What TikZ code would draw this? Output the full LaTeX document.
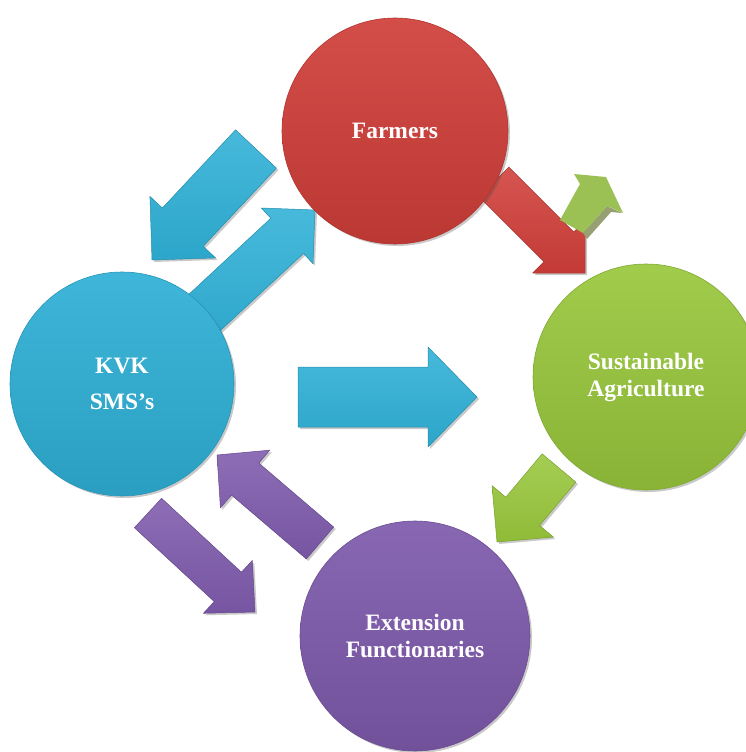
\documentclass[tikz,border=0pt]{standalone}
\usepackage{fontspec}
\setmainfont{Liberation Serif}
\usetikzlibrary{calc,shadows}

\definecolor{kvkblue}{RGB}{46,176,214}
\definecolor{farmred}{RGB}{208,62,57}
\definecolor{sustgreen}{RGB}{152,199,60}
\definecolor{extpurple}{RGB}{126,90,172}
\definecolor{smallgreen}{RGB}{155,192,84}
\definecolor{greenside}{RGB}{150,160,115}

% block arrow: #1 style, #2 tail, #3 tip, #4 half shaft, #5 half head, #6 head length
\newcommand{\blockarrow}[6]{%
  \coordinate (ba-h) at ($(#3)!#6!(#2)$);
  \path[#1] ($(#2)!#4!90:(#3)$) -- ($(ba-h)!#4!90:(#3)$) -- ($(ba-h)!#5!90:(#3)$) -- (#3)
    -- ($(ba-h)!#5!-90:(#3)$) -- ($(ba-h)!#4!-90:(#3)$) -- ($(#2)!#4!-90:(#3)$) -- cycle;
}

\tikzset{
  softshadow/.style={drop shadow={shadow xshift=2pt, shadow yshift=-2pt, opacity=0.3, fill=black!70}},
  hub/.style={circle, minimum size=#1, inner sep=0pt, text=white, align=center,
    font=\bfseries\fontsize{23.5}{27}\selectfont, softshadow},
  hubfill/.style={top color=#1!92!white, bottom color=#1!90!black, draw=#1!85!black, line width=0.6pt},
  barrow/.style={top color=#1!88!white, bottom color=#1!94!black, draw=#1!80!black, line width=0.5pt,
    line join=round, softshadow},
}

\begin{document}
\begin{tikzpicture}[x=1pt, y=-1pt]
\useasboundingbox (0,0) rectangle (745,752);

% arrow end points
\coordinate (a1t) at (256,149); \coordinate (a1p) at (152,260);
\coordinate (a2t) at (176,339); \coordinate (a2p) at (315,210);
\coordinate (a3t) at (494,182); \coordinate (a3p) at (585,273);
\coordinate (a5t) at (298,397); \coordinate (a5p) at (477,397);
\coordinate (a6t) at (559,468); \coordinate (a6p) at (497,542);
\coordinate (a7t) at (320,543); \coordinate (a7p) at (217,455);
\coordinate (a8t) at (148,513); \coordinate (a8p) at (255,612);

% block arrows (behind the circles)
\blockarrow{barrow=kvkblue}{a1t}{a1p}{28pt}{45pt}{45pt}
\blockarrow{barrow=kvkblue}{a2t}{a2p}{24pt}{38pt}{38pt}
\blockarrow{barrow=farmred}{a3t}{a3p}{21pt}{37pt}{37pt}
\blockarrow{barrow=kvkblue}{a5t}{a5p}{30pt}{50pt}{49pt}
\blockarrow{barrow=sustgreen}{a6t}{a6p}{22pt}{40pt}{40pt}
\blockarrow{barrow=extpurple}{a7t}{a7p}{21pt}{38pt}{37pt}
\blockarrow{barrow=extpurple}{a8t}{a8p}{20pt}{36pt}{37pt}

% small green arrow with its darker side face
\fill[greenside] (583,233) -- (607,206) -- (622,213) -- (611,212) -- (587,239) -- cycle;
\fill[smallgreen] (560,220) -- (580,184) -- (574,174) -- (606,177) -- (623,213)
  -- (607,206) -- (583,233) -- cycle;

% circles
\node[hub=226pt, hubfill=farmred] (farmers) at (395,131) {Farmers};
\node[hub=224pt, hubfill=kvkblue] (kvk) at (122,384) {KVK\\[9pt]SMS's};
\node[hub=226pt, hubfill=sustgreen] (sust) at (646,377) {Sustainable\\Agriculture};
\node[hub=230pt, hubfill=extpurple] (ext) at (415,636) {Extension\\Functionaries};
\end{tikzpicture}
\end{document}
